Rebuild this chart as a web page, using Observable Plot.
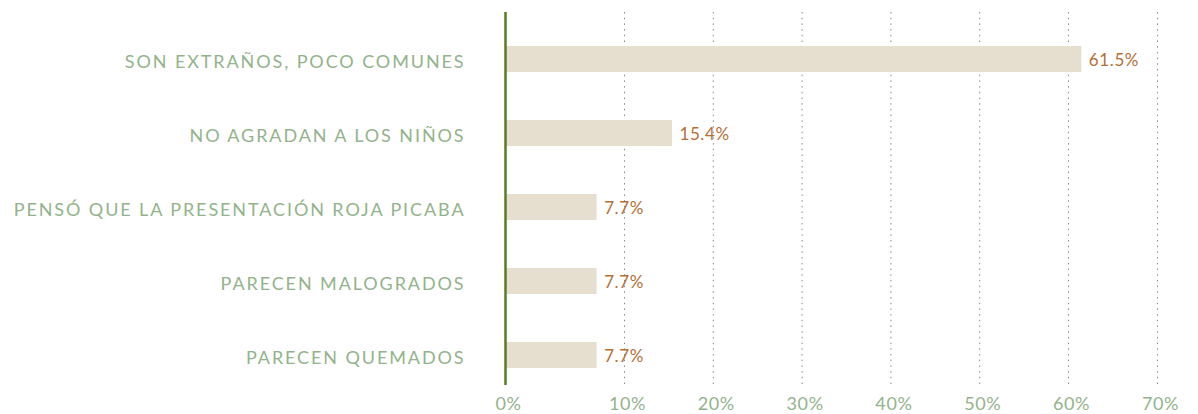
<!DOCTYPE html>
<html><head><meta charset="utf-8">
<script src="https://cdn.jsdelivr.net/npm/d3@7"></script>
<script src="https://cdn.jsdelivr.net/npm/@observablehq/plot@0.6"></script>
<style>body{margin:0;background:#fff}</style>
</head><body><div id="chart"></div>
<script>
const categories = [
  "SON EXTRAÑOS, POCO COMUNES",
  "NO AGRADAN A LOS NIÑOS",
  "PENSÓ QUE LA PRESENTACIÓN ROJA PICABA",
  "PARECEN MALOGRADOS",
  "PARECEN QUEMADOS"
];
const values = [61.5, 15.4, 7.7, 7.7, 7.7];
const tickValues = [0, 10, 20, 30, 40, 50, 60, 70];

const data = categories.map((c, i) => ({category: c, value: values[i]}));

const chart = Plot.plot({
  width: 1198,
  height: 414,
  marginLeft: 505,
  marginRight: 41,
  marginTop: 12,
  marginBottom: 29,
  style: {fontFamily: "Lato, sans-serif", background: "#fff"},
  x: {type: "linear", domain: [0, 10, 60, 70], range: [505, 624, 1068, 1157]},
  y: {domain: categories, range: [20.75, 393.5], paddingInner: 0.65, paddingOuter: 0.325},
  marks: [
    Plot.gridX(tickValues.filter(d => d > 0), {stroke: "#8a8a8a", strokeOpacity: 1, strokeDasharray: "1.5,4.2"}),
    Plot.barX(data, {x: "value", y: "category", fill: "#e6dfd0"}),
    Plot.ruleX([0], {stroke: "#5a7d1c", strokeWidth: 2.5}),
    Plot.text(data, {x: "value", y: "category", text: d => d.value.toFixed(1) + "%", textAnchor: "start", dx: 7, dy: 1, fill: "#b46f37", fontSize: 17}),
    Plot.axisY({tickSize: 0, tickPadding: 40, fontSize: 18, color: "#93b38c", label: null, dy: 3, className: "ylab"}),
    Plot.axisX(tickValues, {tickSize: 0, tickPadding: 12, fontSize: 18, color: "#93b38c", tickFormat: d => d + "%", label: null, dx: 3})
  ]
});
chart.querySelectorAll("text").forEach(t => t.style.letterSpacing = "0.6px");
chart.querySelectorAll("g[aria-label='y-axis tick label'] text").forEach(t => t.style.letterSpacing = "1.9px");
document.getElementById("chart").appendChild(chart);
</script>
</body></html>
